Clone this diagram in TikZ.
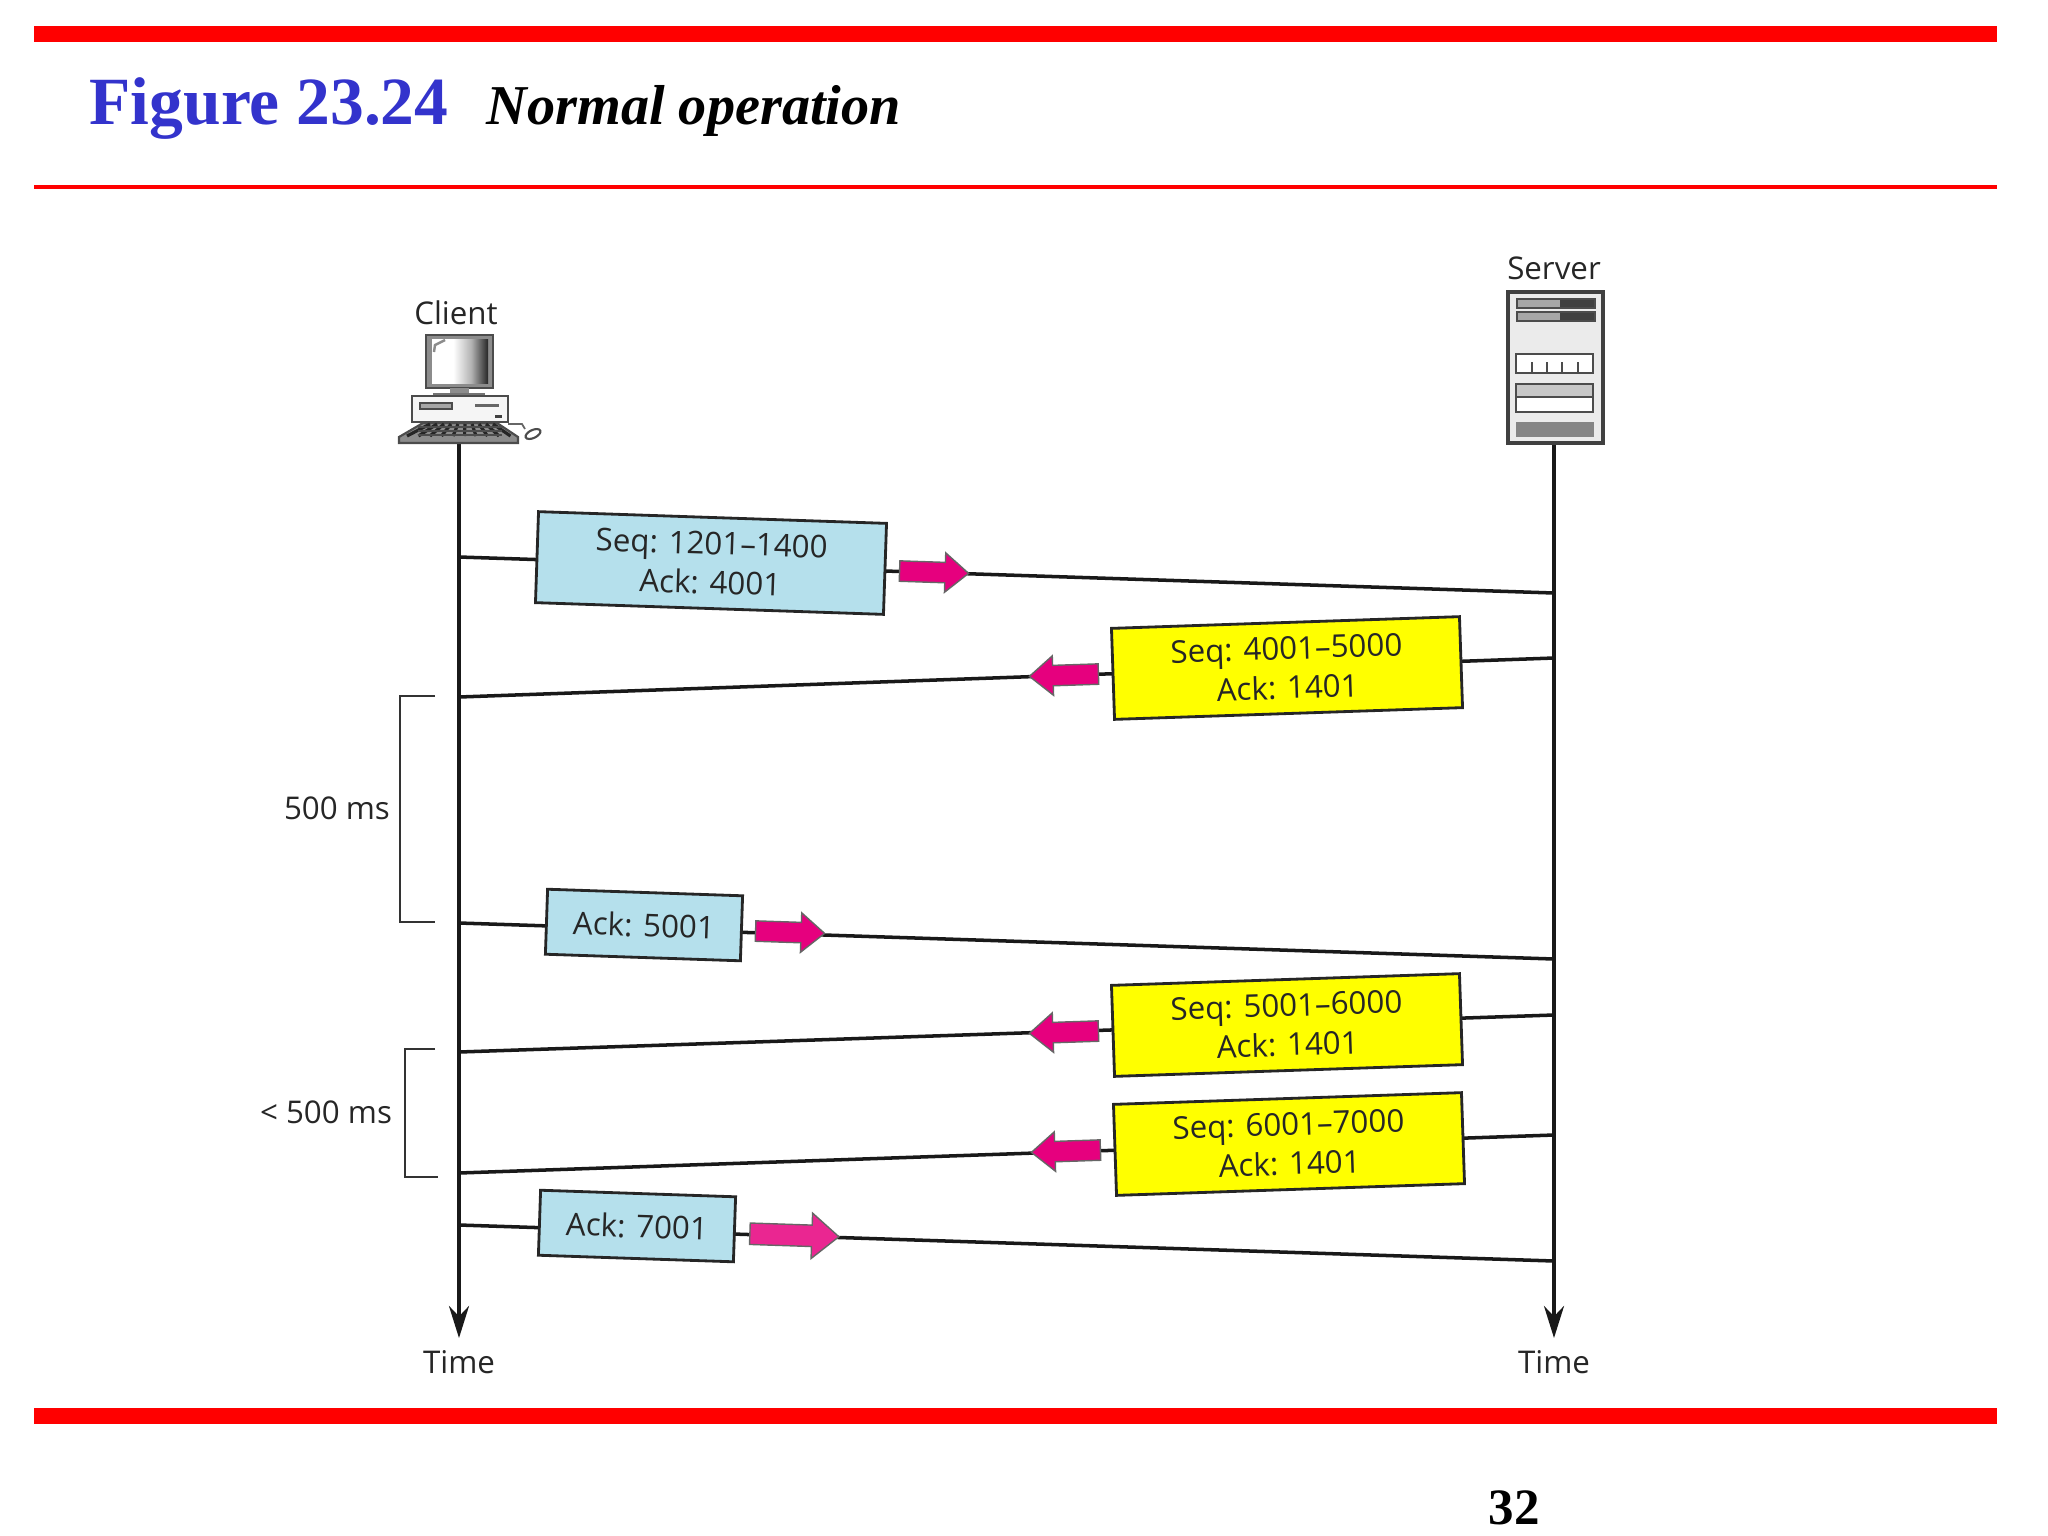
\documentclass[tikz,border=0pt]{standalone}
\usepackage{fontspec}
\usetikzlibrary{arrows.meta,shapes.arrows}
\setmainfont{Liberation Serif}
\newfontfamily\labelfont{Open Sans}
\definecolor{titleblue}{RGB}{51,51,204}
\definecolor{barred}{RGB}{255,0,0}
\definecolor{segblue}{RGB}{181,224,236}
\definecolor{segyellow}{RGB}{255,255,0}
\definecolor{pointpink}{RGB}{230,0,126}
\pgfdeclarehorizontalshading{screenfade}{100bp}{color(0bp)=(white); color(44bp)=(white); color(60bp)=(black!30); color(75bp)=(black!85); color(100bp)=(black!85)}
\tikzset{
    every node/.style={font=\labelfont\fontsize{8.9}{11.2}\selectfont, text=black!85},
    segment/.style={draw=black!85, line width=.8pt, align=center, inner sep=0pt, minimum height=.91cm, minimum width=3.48cm},
    ackbox/.style={segment, fill=segblue, minimum width=1.95cm, minimum height=.65cm},
    databox/.style={segment, fill=segblue},
    replybox/.style={segment, fill=segyellow},
    pointer/.style={single arrow, fill=pointpink, draw=black!60, line width=.4pt, minimum height=.69cm, inner xsep=0pt, inner ysep=.095cm, single arrow head extend=.095cm, single arrow tip angle=80},
    wire/.style={line width=1pt, black!90},
    brace/.style={line width=.5pt, black!80},
    part/.style={draw=black!70, line width=.6pt}
}
\begin{document}
\begin{tikzpicture}[x=0.01cm, y=-0.01cm, >=Stealth]
    \useasboundingbox (0,0) rectangle (2048,1536);

    % Slide frame
    \fill[barred] (34,26) rectangle (1997,42);
    \fill[barred] (34,185) rectangle (1997,189);
    \fill[barred] (34,1408) rectangle (1997,1424);
    \node[anchor=base west, inner sep=0pt, text=titleblue, font=\bfseries\fontsize{19.2}{20}\selectfont] (title) at (89,124) {Figure 23.24};
    \node[anchor=base west, inner sep=0pt, text=black, font=\bfseries\itshape\fontsize{16}{20}\selectfont] (subtitle) at (486,124) {Normal operation};
    \node[anchor=base, inner sep=0pt, text=black, font=\bfseries\fontsize{14.5}{16}\selectfont] (pageno) at (1514,1524) {32};

    % Labels at the ends of the two time lines
    \node (client) at (456,313) {Client};
    \node (server) at (1554,268) {Server};
    \node (clienttime) at (459,1362) {Time};
    \node (servertime) at (1554,1362) {Time};

    % Time lines
    \coordinate (clienttop) at (459,444);
    \coordinate (clientend) at (459,1338);
    \coordinate (servertop) at (1554,443);
    \coordinate (serverend) at (1554,1338);
    \draw[wire, -{Stealth[length=.32cm,width=.2cm]}] (clienttop) -- (clientend);
    \draw[wire, -{Stealth[length=.32cm,width=.2cm]}] (servertop) -- (serverend);

    % Message lines, client end and server end
    \foreach \n/\yc/\ys in {1/557/593, 2/697/658, 3/923/959, 4/1052/1015, 5/1173/1135, 6/1225/1261} {
        \coordinate (c\n) at (459,\yc);
        \coordinate (s\n) at (1554,\ys);
        \draw[wire] (c\n) -- (s\n);
    }

    % Segments going right
    \node[databox, rotate=-1.93] (seg1) at (711,563) {Seq: 1201–1400\\Ack: 4001};
    \node[ackbox, rotate=-1.93] (seg3) at (644,925) {Ack: 5001};
    \node[ackbox, rotate=-1.93] (seg6) at (637,1226) {Ack: 7001};
    \node[pointer, rotate=-1.93] (tip1) at (928,572) {};
    \node[pointer, rotate=-1.93] (tip3) at (784,932) {};
    \node[pointer, rotate=-1.93, minimum height=.89cm, inner ysep=.1cm, single arrow head extend=.12cm, fill=pointpink!85!white] (tip6) at (788,1235) {};

    % Segments going left
    \node[replybox, rotate=1.93] (seg2) at (1287,668) {Seq: 4001–5000\\Ack: 1401};
    \node[replybox, rotate=1.93] (seg4) at (1287,1025) {Seq: 5001–6000\\Ack: 1401};
    \node[replybox, rotate=1.93] (seg5) at (1289,1144) {Seq: 6001–7000\\Ack: 1401};
    \node[pointer, rotate=181.93] (tip2) at (1070,675) {};
    \node[pointer, rotate=181.93] (tip4) at (1070,1032) {};
    \node[pointer, rotate=181.93] (tip5) at (1072,1151) {};

    % Timer brackets
    \node (wait) at (337,808) {500 ms};
    \node (shortwait) at (326,1112) {< 500 ms};
    \coordinate (waita) at (435,696);
    \coordinate (waitb) at (435,922);
    \coordinate (shorta) at (435,1049);
    \coordinate (shortb) at (438,1177);
    \draw[brace] (waita) -- (400,696) -- (400,922) -- (waitb);
    \draw[brace] (shorta) -- (405,1049) -- (405,1177) -- (shortb);

    % Computer
    \draw[part, fill=black!45, line width=.8pt] (426,335) rectangle (493,388);
    \shade[shading=screenfade] (432,339) rectangle (488,383);
    \draw[black!45, line width=.7pt] (434,352) -- (435,345) -- (445,340);
    \fill[black!45] (450,388) rectangle (469,395);
    \fill[black!55] (433,393) rectangle (485,397);
    \draw[part, fill=black!4] (412,396) rectangle (508,422);
    \draw[part, fill=black!35] (420,403) rectangle (452,409);
    \fill[black!60] (475,404) -- (499,404) -- (499,407) -- (475,407) -- cycle;
    \fill[black!75] (495,415) rectangle (502,418);
    \draw[part, fill=black!45] (423,423) -- (497,423) -- (518,437) -- (518,443) -- (399,443) -- (399,437) -- cycle;
    \foreach \k in {0,...,9} {
        \draw[black!85, line width=.9pt] (430+\k*7,424) -- (407+\k*11.5,436);
    }
    \foreach \r in {427,431,435} {
        \draw[black!70, line width=.7pt] (418,\r) -- (502,\r);
    }
    \draw[black!60, line width=.5pt] (508,424) -- (522,424) -- (525,429);
    \draw[part, fill=white, rotate around={25:(533,434)}] (533,434) ellipse (8 and 4);

    % Server
    \draw[black!75, fill=black!8, line width=.9pt] (1508,292) rectangle (1603,443);
    \foreach \y in {299,312} {
        \draw[part, fill=black!35] (1517,\y) rectangle (1595,\y+9);
        \fill[black!75] (1560,\y+1) rectangle (1594,\y+8);
    }
    \draw[part, fill=white] (1516,354) rectangle (1593,373);
    \foreach \x in {1532,1547,1562,1578} {
        \draw[black!70, line width=.7pt] (\x,362) -- (\x,373);
    }
    \draw[part, fill=black!22] (1516,384) rectangle (1593,397);
    \draw[part, fill=white] (1516,397) rectangle (1593,412);
    \fill[black!48] (1516,422) rectangle (1594,437);
\end{tikzpicture}
\end{document}
